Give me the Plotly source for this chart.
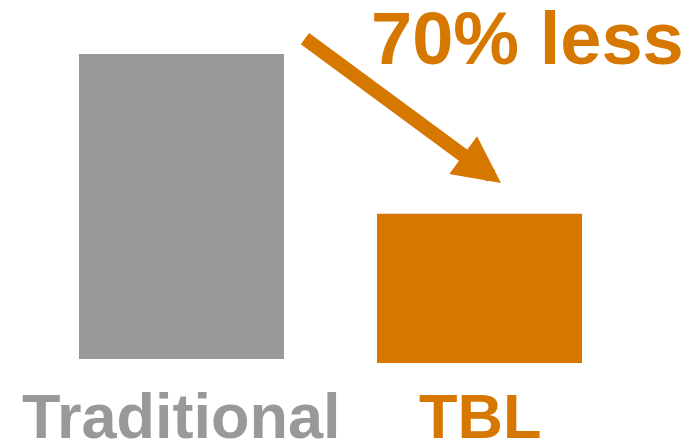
import plotly.graph_objects as go

categories = ["Traditional", "TBL"]
values = [100, 48.9]
bases = [0, -1.3]
bar_colors = ["#98999B", "#D67800"]
headline = "70% less"

FONT = "Liberation Sans, Arial, sans-serif"

fig = go.Figure()
fig.add_trace(go.Bar(
    x=[0, 1], y=values, base=bases,
    marker=dict(color=bar_colors, line=dict(width=0)),
    width=0.688, hoverinfo="skip",
))

# category labels
for i, (cat, col) in enumerate(zip(categories, bar_colors)):
    fig.add_annotation(
        x=i, y=-18.6, xref="x", yref="y", text=cat, showarrow=False,
        font=dict(family=FONT, size=63, color=col, weight="bold"),
        xanchor="center", yanchor="middle",
    )

# headline
fig.add_annotation(
    x=527 / 689, y=1 - 38 / 440, xref="paper", yref="paper", text=headline,
    showarrow=False, xanchor="center", yanchor="middle",
    font=dict(family=FONT, size=74, color=bar_colors[1], weight="bold"),
)

# arrow
fig.add_annotation(
    x=1.072, y=57.7, xref="x", yref="y", text="",
    showarrow=True, arrowhead=2, arrowwidth=14, arrowsize=0.67,
    arrowcolor=bar_colors[1], ax=-197.5, ay=-145.5, axref="pixel", ayref="pixel",
    standoff=0, startstandoff=0,
)

fig.update_layout(
    width=689, height=440, margin=dict(l=0, r=0, t=0, b=0),
    paper_bgcolor="white", plot_bgcolor="white", showlegend=False,
    xaxis=dict(range=[-0.609, 1.703], visible=False, fixedrange=True),
    yaxis=dict(range=[-26.56, 117.7], visible=False, fixedrange=True),
)

fig.write_html("out.html", config={"displayModeBar": False})
